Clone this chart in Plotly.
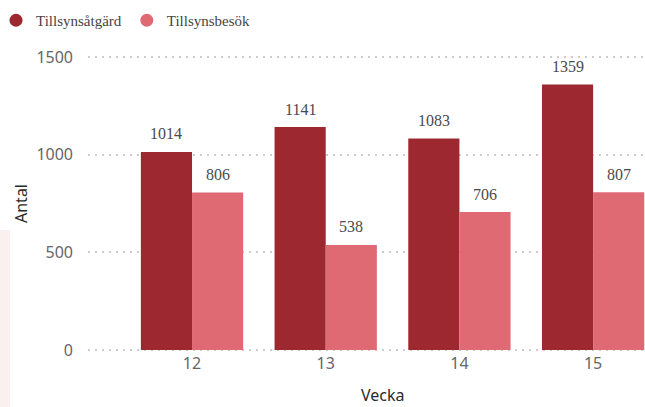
import plotly.graph_objects as go

weeks = ["12", "13", "14", "15"]
atgard = [1014, 1141, 1083, 1359]
besok = [806, 538, 706, 807]
series_names = ["Tillsynsåtgärd", "Tillsynsbesök"]
colors = ["#9E2830", "#E06A74"]
y_ticks = [0, 500, 1000, 1500]

W, H = 645, 407
ML, MR, MT, MB = 88, 0, 55, 55
Y0, Y1 = -10, 1510
PW, PH = W - ML - MR, H - MT - MB

fig = go.Figure()
for name, vals, col in zip(series_names, [atgard, besok], colors):
    fig.add_trace(go.Bar(x=weeks, y=vals, name=name, marker=dict(color=col, line=dict(width=0)),
                         showlegend=False))
    fig.add_trace(go.Scatter(x=[None], y=[None], mode="markers", name=name,
                             marker=dict(color=col, size=13, symbol="circle")))

# value labels
cat_px = PW / (3.388 + 0.778)
bar_px = cat_px * (1 - 0.235) / 2
for vals, sgn in [(atgard, -1), (besok, 1)]:
    for i, v in enumerate(vals):
        fig.add_annotation(x=i, y=v, text=str(v), showarrow=False, xref="x", yref="y",
                           xshift=sgn * bar_px / 2, yshift=18, yanchor="middle",
                           font=dict(family="Liberation Serif", size=16, color="#4a4a4a"))

fig.add_annotation(text="Vecka", xref="paper", yref="paper", x=(383 - ML) / PW,
                   y=(H - MB - 395) / PH, showarrow=False, yanchor="middle",
                   font=dict(family="Noto Sans", size=16, color="#2a2a2a"))

fig.add_shape(type="rect", xref="paper", yref="paper", x0=-ML / PW, x1=(10 - ML) / PW,
              y0=-MB / PH, y1=(H - MB - 230) / PH, fillcolor="#faf0ed",
              line=dict(width=0), layer="below")

fig.update_layout(
    width=W, height=H,
    margin=dict(l=ML, r=MR, t=MT, b=MB, autoexpand=False),
    paper_bgcolor="white", plot_bgcolor="white",
    barmode="group", bargap=0.235, bargroupgap=0,
    legend=dict(orientation="h", x=(-4 - ML) / PW, xanchor="left",
                y=(H - MB - 4) / PH, yanchor="top",
                font=dict(family="Liberation Serif", size=15, color="#444444"),
                itemwidth=30, tracegroupgap=0),
    xaxis=dict(type="category", range=[-0.778, 3.388], showgrid=False, showline=False,
               zeroline=False, ticks="", tickfont=dict(family="Noto Sans", size=16, color="#666666")),
    yaxis=dict(range=[Y0, Y1], tickvals=y_ticks, showgrid=True, gridcolor="#cccccc",
               gridwidth=1.5, griddash="2px,5px", zeroline=False, showline=False,
               ticks="", ticklabelstandoff=14,
               tickfont=dict(family="Noto Sans", size=16, color="#666666"),
               title=dict(text="Antal", standoff=4,
                          font=dict(family="Noto Sans", size=16, color="#2a2a2a"))),
)

fig.write_html("out.html", config={"displayModeBar": False},
               post_script="document.body.style.margin='0';document.body.style.overflow='hidden';")
